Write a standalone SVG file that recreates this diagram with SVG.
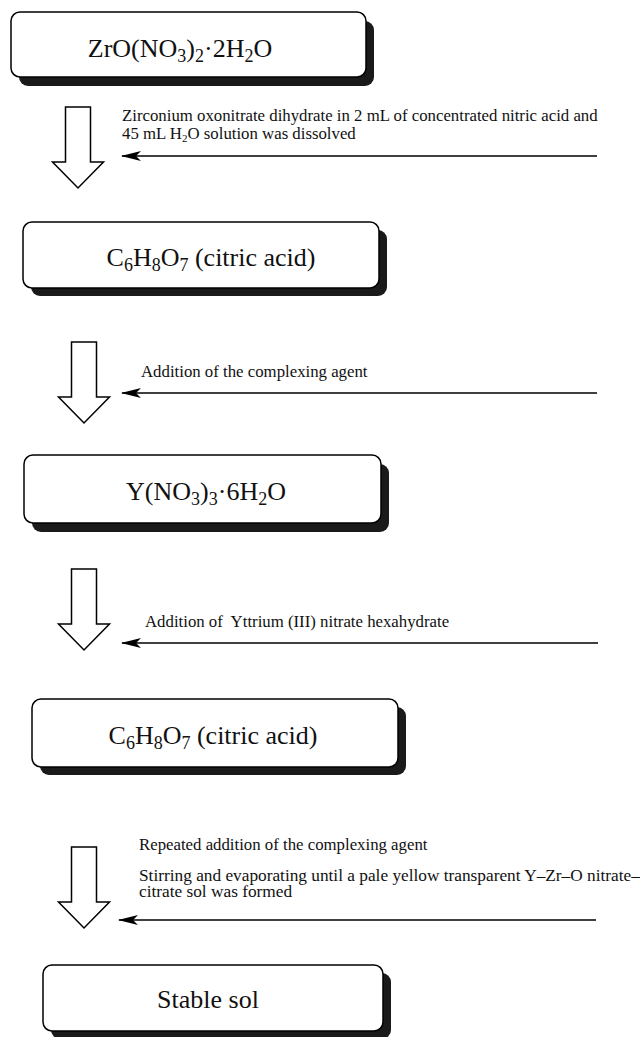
<svg xmlns="http://www.w3.org/2000/svg" xmlns:xlink="http://www.w3.org/1999/xlink" width="640" height="1037" viewBox="0 0 640 1037">
<style>
.box{fill:#fff;stroke:#000;stroke-width:1.5}
.shadow{fill:#1a1a1a}
.big{font-family:"Liberation Serif","Times New Roman",serif;font-size:26px;fill:#111;text-anchor:middle}
.small{font-family:"Liberation Serif","Times New Roman",serif;font-size:16.8px;fill:#111}
.wide{font-size:17.3px}
.sub{font-size:18px}
.ssub{font-size:11px}
.hollow{fill:#fff;stroke:#000;stroke-width:1.5;stroke-linejoin:miter}
.conn{stroke:#000;stroke-width:1.6;fill:none;marker-end:url(#head)}
</style>
<defs>
<marker id="head" viewBox="0 0 20 10" refX="19" refY="5" markerWidth="20" markerHeight="10" markerUnits="userSpaceOnUse" orient="auto">
<path d="M20,5 L0,0 L5,5 L0,10 Z" fill="#000"/>
</marker>
<path id="hollowArrow" class="hollow" d="M-12.5,0 H12.5 V55 H25.5 L0,81 L-25.5,55 H-12.5 Z"/>
</defs>

<g id="node1">
<rect class="shadow" x="19" y="21" width="355" height="65" rx="9"/>
<rect class="box" x="11" y="12" width="355" height="65" rx="9"/>
<text class="big" x="180" y="57">ZrO(NO<tspan class="sub" dy="5">3</tspan><tspan dy="-5">)</tspan><tspan class="sub" dy="5">2</tspan><tspan dy="-5">·2H</tspan><tspan class="sub" dy="5">2</tspan><tspan dy="-5">O</tspan></text>
</g>

<g id="node2">
<rect class="shadow" x="31" y="230" width="356" height="66" rx="9"/>
<rect class="box" x="23" y="222" width="356" height="66" rx="9"/>
<text class="big" x="211" y="266">C<tspan class="sub" dy="5">6</tspan><tspan dy="-5">H</tspan><tspan class="sub" dy="5">8</tspan><tspan dy="-5">O</tspan><tspan class="sub" dy="5">7</tspan><tspan dy="-5"> (citric acid)</tspan></text>
</g>

<g id="node3">
<rect class="shadow" x="32" y="464" width="357" height="68" rx="9"/>
<rect class="box" x="24" y="455" width="357" height="68" rx="9"/>
<text class="big" x="206" y="500">Y(NO<tspan class="sub" dy="5">3</tspan><tspan dy="-5">)</tspan><tspan class="sub" dy="5">3</tspan><tspan dy="-5">·6H</tspan><tspan class="sub" dy="5">2</tspan><tspan dy="-5">O</tspan></text>
</g>

<g id="node4">
<rect class="shadow" x="40" y="707" width="366" height="68" rx="9"/>
<rect class="box" x="32" y="699" width="366" height="68" rx="9"/>
<text class="big" x="213" y="744">C<tspan class="sub" dy="5">6</tspan><tspan dy="-5">H</tspan><tspan class="sub" dy="5">8</tspan><tspan dy="-5">O</tspan><tspan class="sub" dy="5">7</tspan><tspan dy="-5"> (citric acid)</tspan></text>
</g>

<g id="node5">
<rect class="shadow" x="51" y="973" width="340" height="66" rx="9"/>
<rect class="box" x="43" y="965" width="340" height="66" rx="9"/>
<text class="big" x="208" y="1008">Stable sol</text>
</g>

<g id="connectors">
<use xlink:href="#hollowArrow" x="78" y="107"/>
<use xlink:href="#hollowArrow" x="84" y="342"/>
<use xlink:href="#hollowArrow" x="84" y="569"/>
<use xlink:href="#hollowArrow" x="84" y="847"/>
<line class="conn" x1="597" y1="156" x2="122" y2="156"/>
<line class="conn" x1="597" y1="393" x2="122" y2="393"/>
<line class="conn" x1="598" y1="643" x2="122" y2="643"/>
<line class="conn" x1="596" y1="920" x2="119" y2="920"/>
</g>

<g id="labels">
<text class="small" x="122" y="121">Zirconium oxonitrate dihydrate in 2 mL of concentrated nitric acid and</text>
<text class="small" x="122" y="139">45 mL H<tspan class="ssub" dy="3">2</tspan><tspan dy="-3">O solution was dissolved</tspan></text>
<text class="small" x="141" y="377">Addition of the complexing agent</text>
<text class="small" x="145" y="627" xml:space="preserve">Addition of  Yttrium (III) nitrate hexahydrate</text>
<text class="small" x="139" y="850">Repeated addition of the complexing agent</text>
<text class="small wide" x="139" y="881">Stirring and evaporating until a pale yellow transparent Y–Zr–O nitrate–</text>
<text class="small wide" x="139" y="897">citrate sol was formed</text>
</g>
</svg>
